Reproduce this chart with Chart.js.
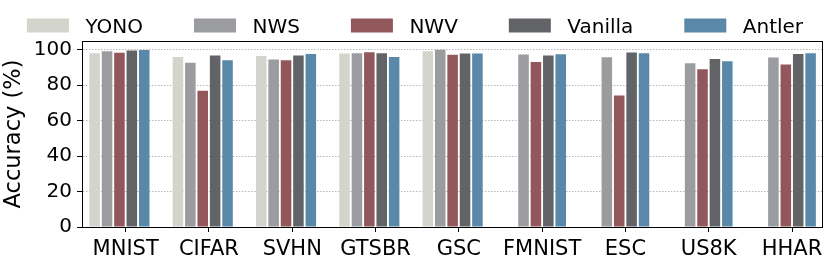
<!DOCTYPE html>
<html>
<head>
<meta charset="utf-8">
<script src="https://cdn.jsdelivr.net/npm/chart.js@4"></script>
<style>
    html, body { margin: 0; padding: 0; background: #fff; }
</style>
</head>
<body>
<canvas id="acc-chart" width="830" height="270"></canvas>
<script>
const categories = ['MNIST', 'CIFAR', 'SVHN', 'GTSBR', 'GSC', 'FMNIST', 'ESC', 'US8K', 'HHAR'];
const yonoValues    = [98.1, 96.0, 96.6, 97.9, 99.2, null, null, null, null];
const nwsValues     = [99.2, 92.7, 94.5, 98.1, 100.0, 97.4, 95.8, 92.5, 95.7];
const nwvValues     = [98.3, 76.9, 94.2, 98.7, 97.2, 93.2, 74.2, 89.1, 91.7];
const vanillaValues = [99.6, 96.8, 96.8, 98.1, 98.0, 96.8, 98.5, 94.9, 97.7];
const antlerValues  = [99.9, 94.2, 97.7, 96.0, 98.0, 97.5, 98.1, 93.6, 98.1];
const yTicks = [0, 20, 40, 60, 80, 100];

const FONT = '"DejaVu Sans", sans-serif';
Chart.defaults.font.family = FONT;
Chart.defaults.color = '#000';

const series = [
    { name: 'YONO', values: yonoValues, color: '#d3d4cc' },
    { name: 'NWS', values: nwsValues, color: '#9b9ca0' },
    { name: 'NWV', values: nwvValues, color: '#92575a' },
    { name: 'Vanilla', values: vanillaValues, color: '#626367' },
    { name: 'Antler', values: antlerValues, color: '#5a88a9' }
];

const datasets = series.map((s) => ({
    label: s.name,
    data: s.values.map((v, i) => ({ x: i, y: v })),
    backgroundColor: s.color,
    borderWidth: 0
}));
// empty slot on the right, so the tick sits between NWV and Vanilla like the original
datasets.push({ label: '', data: [], backgroundColor: 'transparent' });

// legend across the top + closed frame round the plot
const decor = {
    id: 'decor',
    afterDraw(chart) {
        const ctx = chart.ctx;
        const ca = chart.chartArea;
        ctx.save();
        ctx.strokeStyle = '#000';
        ctx.lineWidth = 1;
        ctx.strokeRect(Math.round(ca.left) + 0.5, Math.round(ca.top) + 0.5,
            Math.round(ca.right - ca.left), Math.round(ca.bottom - ca.top));

        ctx.font = '20px ' + FONT;
        ctx.textBaseline = 'alphabetic';
        const items = chart.data.datasets.filter((d) => d.label);
        const boxW = 42, boxH = 14, textGap = 16.5, itemGap = 51;
        let total = 0;
        items.forEach((d) => { total += boxW + textGap + ctx.measureText(d.label).width; });
        total += itemGap * (items.length - 1);
        let x = (chart.width - total) / 2;
        items.forEach((d) => {
            ctx.fillStyle = d.backgroundColor;
            ctx.fillRect(x, 18.5, boxW, boxH);
            x += boxW + textGap;
            ctx.fillStyle = '#000';
            ctx.fillText(d.label, x, 32.5);
            x += ctx.measureText(d.label).width + itemGap;
        });
        ctx.restore();
    }
};

new Chart(document.getElementById('acc-chart'), {
    type: 'bar',
    data: { datasets: datasets },
    plugins: [decor],
    options: {
        responsive: false,
        devicePixelRatio: 1,
        animation: false,
        layout: { padding: { top: 41, right: 8, left: 0, bottom: 0 } },
        plugins: {
            legend: { display: false },
            tooltip: { enabled: false }
        },
        datasets: {
            bar: { categoryPercentage: 0.893, barPercentage: 0.85 }
        },
        scales: {
            x: {
                type: 'linear',
                bounds: 'data',
                offset: false,
                min: -0.524,
                max: 8.36,
                afterBuildTicks: (axis) => { axis.ticks = categories.map((c, i) => ({ value: i })); },
                afterFit: (axis) => { axis.height = 43; },
                grid: { offset: false, drawOnChartArea: false, drawTicks: true, tickLength: 5, tickColor: '#000', tickWidth: 1 },
                border: { color: '#000', width: 1 },
                ticks: {
                    autoSkip: false,
                    maxRotation: 0,
                    padding: 5,
                    color: '#000',
                    font: { size: 21 },
                    callback: (value) => categories[value]
                }
            },
            y: {
                min: 0,
                max: 105,
                afterBuildTicks: (axis) => { axis.ticks = yTicks.map((v) => ({ value: v })); },
                afterFit: (axis) => { axis.width = 82; },
                grid: { color: '#b8b8b8', lineWidth: 1, tickLength: 5, tickColor: '#000', tickWidth: 1, tickBorderDash: [] },
                border: { color: '#000', width: 1, dash: [1.5, 1.5] },
                ticks: { padding: 5, color: '#000', font: { size: 20 } },
                title: {
                    display: true,
                    text: 'Accuracy (%)',
                    color: '#000',
                    font: { size: 22.5 },
                    padding: { top: 1, bottom: 0 }
                }
            }
        }
    }
});
</script>
</body>
</html>
